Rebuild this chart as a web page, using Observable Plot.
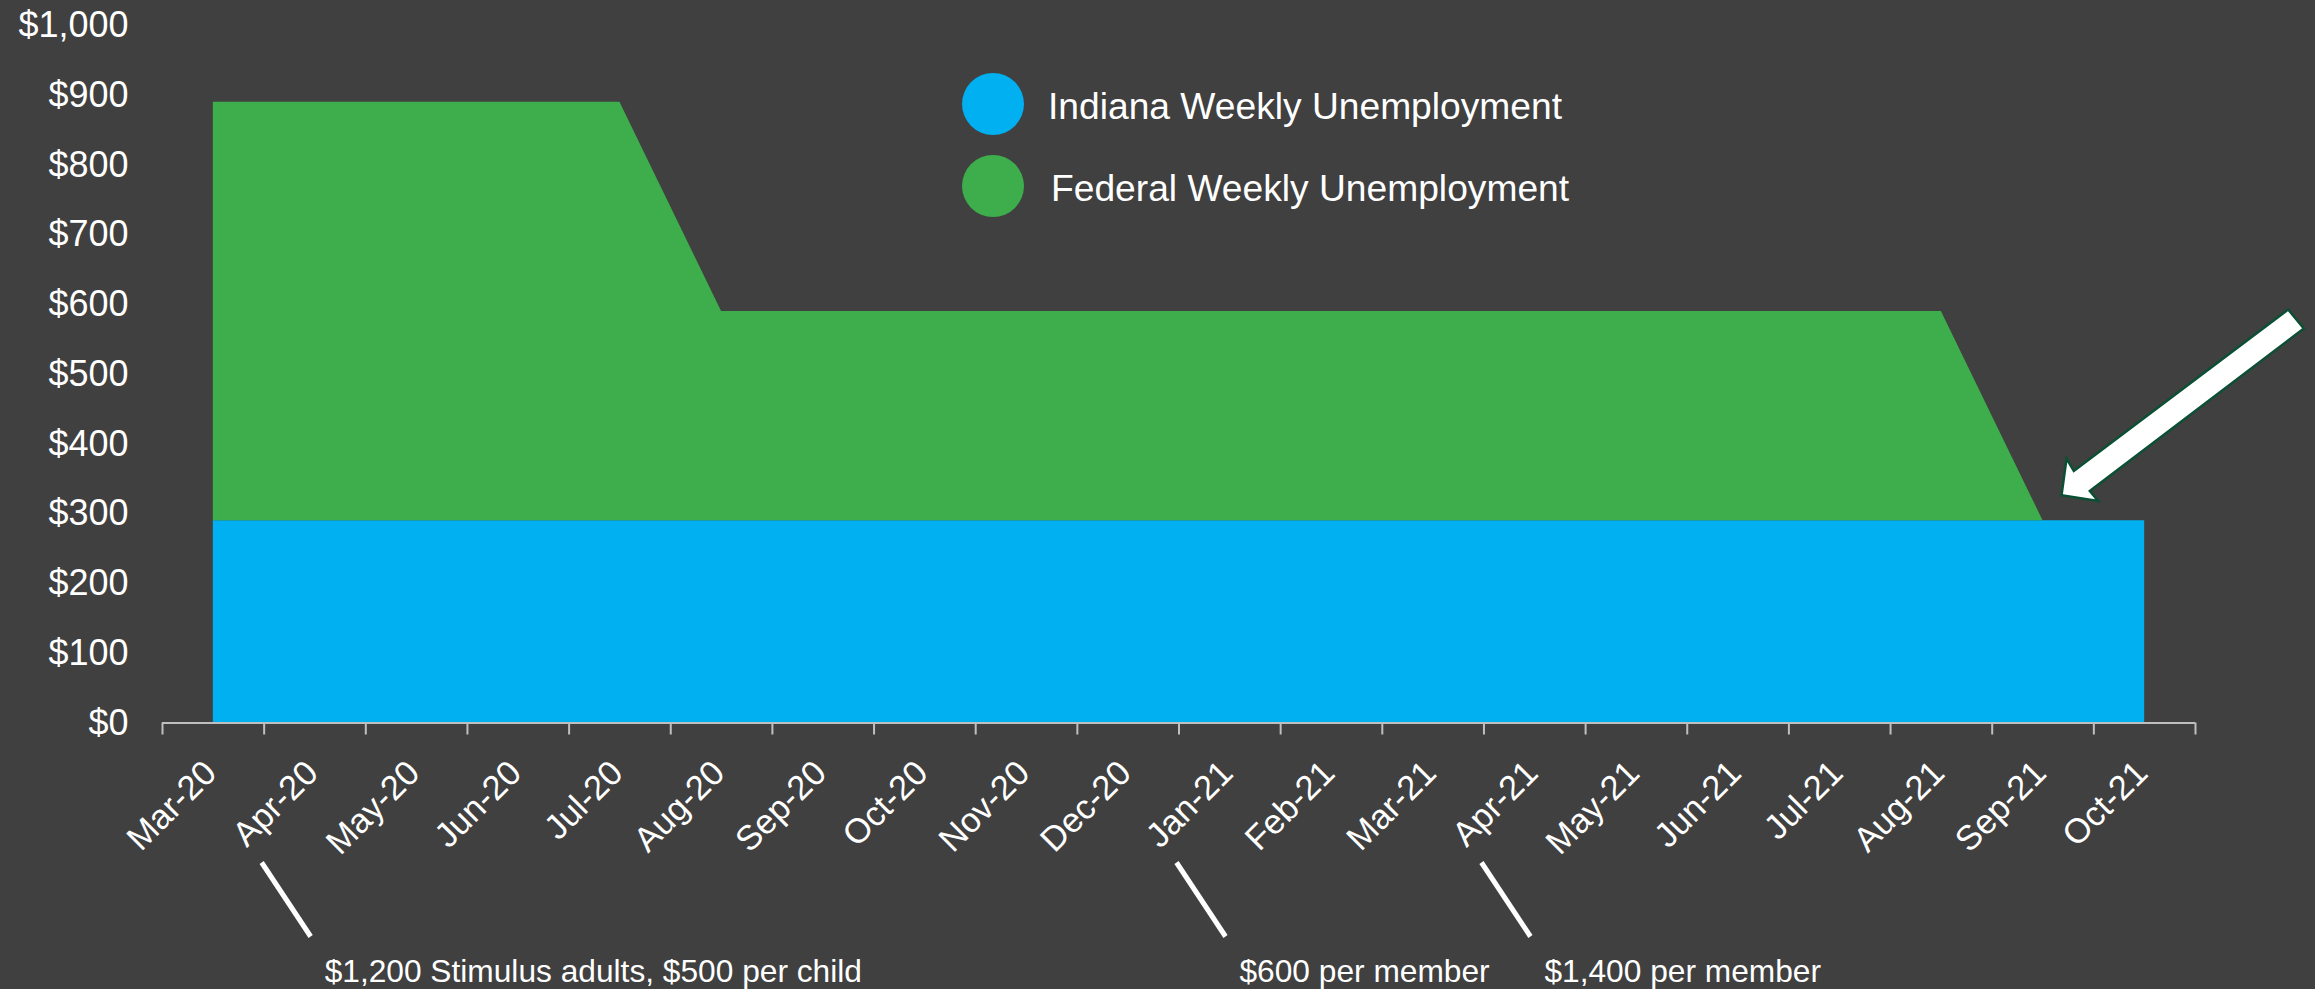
<!DOCTYPE html>
<html><head><meta charset="utf-8">
<script src="https://cdn.jsdelivr.net/npm/d3@7"></script>
<script src="https://cdn.jsdelivr.net/npm/@observablehq/plot@0.6"></script>
<style>
html,body{margin:0;padding:0;background:#404040;}
#chart{width:2315px;height:989px;}
svg{display:block;}
</style></head><body><div id="chart"></div>
<script>
const months = ["Mar-20","Apr-20","May-20","Jun-20","Jul-20","Aug-20","Sep-20","Oct-20","Nov-20","Dec-20",
                "Jan-21","Feb-21","Mar-21","Apr-21","May-21","Jun-21","Jul-21","Aug-21","Sep-21","Oct-21"];
const indiana = [290,290,290,290,290,290,290,290,290,290,290,290,290,290,290,290,290,290,290,290];
const federal = [600,600,600,600,600,300,300,300,300,300,300,300,300,300,300,300,300,300,0,0];
const seriesNames = ["Indiana Weekly Unemployment", "Federal Weekly Unemployment"];
const seriesColors = ["#00b0f0", "#3dae4b"];
const yTicks = [0,100,200,300,400,500,600,700,800,900,1000];
const events = [
  {month: "Apr-20", text: "$1,200 Stimulus adults, $500 per child"},
  {month: "Jan-21", text: "$600 per member"},
  {month: "Apr-21", text: "$1,400 per member"}
];

const rows = months.flatMap((m, i) => [
  {i, month: m, series: seriesNames[0], value: indiana[i]},
  {i, month: m, series: seriesNames[1], value: federal[i]}
]);
const boundaries = months.map((_, k) => k - 0.5).concat([months.length - 0.5]);
const FONT = "'Liberation Sans', Arial, sans-serif";

const chart = Plot.plot({
  width: 2315, height: 989,
  marginLeft: 162, marginRight: 120, marginTop: 25, marginBottom: 266.5,
  style: {background: "#404040", color: "#ffffff", fontFamily: FONT},
  x: {type: "linear", domain: [-0.5, months.length - 0.5], axis: null},
  y: {domain: [0, 1000], axis: null},
  color: {domain: seriesNames, range: seriesColors},
  marks: [
    Plot.areaY(rows, {x: "i", y: "value", fill: "series", z: "series"}),
    Plot.ruleY([0], {stroke: "#bfbfbf", strokeWidth: 2}),
    Plot.axisX({ticks: boundaries, tickSize: 12, tickFormat: () => "", label: null, stroke: "#bfbfbf", strokeWidth: 2}),
    Plot.axisY({ticks: yTicks, tickSize: 0, tickPadding: 34, fontSize: 36, label: null,
                tickFormat: d => "$" + d3.format(",")(d)}),
    Plot.text(months, {x: (d, i) => i, frameAnchor: "bottom", rotate: -45, textAnchor: "end",
                       lineAnchor: "bottom", dx: 5, dy: 52, fontSize: 34.5, fill: "#ffffff"})
  ]
});

const sx = chart.scale("x"), sy = chart.scale("y");
const svg = d3.select(chart);
const y0 = sy.apply(0);

// annotations
const ga = svg.append("g").attr("text-anchor", "start").attr("font-family", FONT);
events.forEach(e => {
  const k = months.indexOf(e.month);
  const xt = sx.apply(k - 0.5) - 2;
  ga.append("line").attr("x1", xt).attr("y1", y0 + 140).attr("x2", xt + 49).attr("y2", y0 + 214)
    .attr("stroke", "#ffffff").attr("stroke-width", 5);
  ga.append("text").attr("x", xt + 49 + 14).attr("y", y0 + 259).attr("fill", "#ffffff")
    .attr("font-size", 31.7).text(e.text);
});

// legend
const gl = svg.append("g").attr("font-family", FONT).attr("font-size", 37.2).attr("fill", "#ffffff")
  .attr("text-anchor", "start");
seriesNames.forEach((name, j) => {
  const cy = 104 + j * 82;
  gl.append("circle").attr("cx", 993).attr("cy", cy).attr("r", 31).attr("fill", seriesColors[j]);
  gl.append("text").attr("x", 1048 + j * 3).attr("y", cy + 15).text(name);
});

// block arrow pointing at the end of federal benefits
const tx = sx.apply(18) + 19, ty = sy.apply(290) - 25;
const rel = [[226.6,-185.7],[242.3,-166.7],[28.3,-4.3],[36.6,5.7],[0,0],[5,-36.7],[12.3,-24.3]];
svg.append("polygon")
  .attr("points", rel.map(([a, b]) => `${tx + a},${ty + b}`).join(" "))
  .attr("fill", "#ffffff").attr("stroke", "#0b4f34").attr("stroke-width", 2.5).attr("stroke-linejoin", "miter");

document.getElementById("chart").appendChild(chart);
</script>
</body></html>
